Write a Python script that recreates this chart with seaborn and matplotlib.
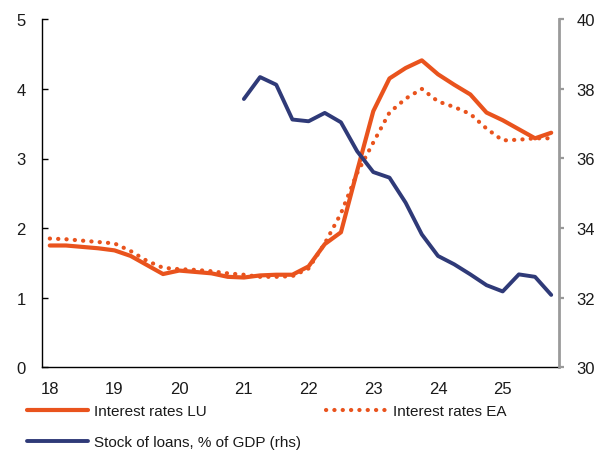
import matplotlib
matplotlib.use("Agg")
import matplotlib.pyplot as plt
import seaborn as sns
import numpy as np
import pandas as pd
from matplotlib.ticker import FixedLocator, NullFormatter
from matplotlib.legend import Legend

# Quarterly observations, 2018Q1 .. 2025Q4
years = ["18", "19", "20", "21", "22", "23", "24", "25"]
quarters = list(range(32))

rates_lu = [1.75, 1.75, 1.73, 1.71, 1.68, 1.60, 1.47, 1.34,
            1.39, 1.37, 1.35, 1.30, 1.29, 1.32, 1.33, 1.33,
            1.45, 1.77, 1.94, 2.82, 3.68, 4.15, 4.30, 4.41,
            4.21, 4.06, 3.92, 3.66, 3.55, 3.42, 3.29, 3.37]

rates_ea = [1.85, 1.84, 1.82, 1.80, 1.78, 1.67, 1.53, 1.43,
            1.41, 1.40, 1.38, 1.35, 1.33, 1.30, 1.30, 1.31,
            1.42, 1.78, 2.21, 2.79, 3.23, 3.66, 3.86, 4.00,
            3.82, 3.74, 3.64, 3.43, 3.26, 3.27, 3.29, 3.29]

# Stock of loans starts in 2021Q1
loans_start = 12
loans_gdp = [37.71, 38.34, 38.12, 37.12, 37.07, 37.31, 37.04, 36.21,
             35.61, 35.45, 34.73, 33.82, 33.20, 32.96, 32.67, 32.36,
             32.18, 32.67, 32.60, 32.08]

label_lu = "Interest rates LU"
label_ea = "Interest rates EA"
label_loans = "Stock of loans, % of GDP (rhs)"

ORANGE = "#E9531D"
NAVY = "#2F3A78"
GREY = "#9A9A9A"
TEXT = "#1a1a1a"

sns.set_style("white")
plt.rcParams["font.family"] = ["Liberation Sans", "DejaVu Sans"]
plt.rcParams["font.size"] = 12

df_rates = pd.DataFrame({"q": quarters, "lu": rates_lu, "ea": rates_ea})
df_loans = pd.DataFrame({"q": quarters[loans_start:loans_start + len(loans_gdp)],
                         "loans": loans_gdp})

W, H = 600, 452
fig = plt.figure(figsize=(W / 100, H / 100), dpi=100)
ax = fig.add_axes([41.7 / W, 1 - 368.3 / H, (559.3 - 41.7) / W, (368.3 - 20.3) / H])
ax2 = ax.twinx()

sns.lineplot(data=df_rates, x="q", y="lu", ax=ax, color=ORANGE, lw=3.0,
             legend=False)
sns.lineplot(data=df_rates, x="q", y="ea", ax=ax, color=ORANGE, lw=3.0,
             legend=False)
ea_line = ax.lines[-1]
ea_line.set_linestyle((0, (0.05, 1.95)))
ea_line.set_dash_capstyle("round")
sns.lineplot(data=df_loans, x="q", y="loans", ax=ax2, color=NAVY, lw=2.8,
             legend=False)

# Axes ranges
ax.set_xlim(-0.5, 31.5)
ax.set_ylim(0, 5)
ax2.set_ylim(30, 40)
ax.set_xlabel("")
ax.set_ylabel("")
ax2.set_ylabel("")

# Left axis
ax.set_yticks([0, 1, 2, 3, 4, 5])
ax.tick_params(axis="y", direction="in", length=4, width=1, color="black",
               pad=11.5, labelsize=12, labelcolor=TEXT)
# Right axis
ax2.set_yticks([30, 32, 34, 36, 38, 40])
ax2.tick_params(axis="y", direction="out", length=3.5, width=1.6, color=GREY,
                pad=9, labelsize=12, labelcolor=TEXT)

# Bottom axis: year labels at each Q1, quarter boundary ticks
ax.set_xticks([4 * i for i in range(len(years))])
ax.set_xticklabels(years)
ax.tick_params(axis="x", length=0, pad=10, labelsize=12, labelcolor=TEXT)
ax.xaxis.set_minor_locator(FixedLocator([q - 0.5 for q in range(1, 32)]))
ax.xaxis.set_minor_formatter(NullFormatter())
ax.tick_params(axis="x", which="minor", direction="in", length=4, width=1,
               color="black")

for a in (ax, ax2):
    a.spines["top"].set_visible(False)
    a.grid(False)
ax.spines["left"].set_color("black")
ax.spines["left"].set_linewidth(1)
ax.spines["bottom"].set_color("black")
ax.spines["bottom"].set_linewidth(1)
ax.spines["right"].set_visible(False)
ax2.spines["left"].set_visible(False)
ax2.spines["bottom"].set_visible(False)
ax2.spines["right"].set_color(GREY)
ax2.spines["right"].set_linewidth(2)

# Legend entries below the plot, each placed at its own slot
h_lu, h_ea = ax.lines[0], ax.lines[1]
h_loans = ax2.lines[0]
entries = [(h_lu, label_lu, 26.7, 412.0),
           (h_ea, label_ea, 326.0, 412.0),
           (h_loans, label_loans, 26.7, 443.5)]
for handle, text, x0, yc in entries:
    leg = Legend(fig, [handle], [text], loc="center left",
                 bbox_to_anchor=(x0 / W, 1 - yc / H),
                 bbox_transform=fig.transFigure,
                 frameon=False, borderpad=0, borderaxespad=0,
                 handlelength=4.0, handletextpad=0.4,
                 prop={"size": 11})
    for t in leg.get_texts():
        t.set_color(TEXT)
    fig.add_artist(leg)

fig.savefig("out.png", dpi=100)
